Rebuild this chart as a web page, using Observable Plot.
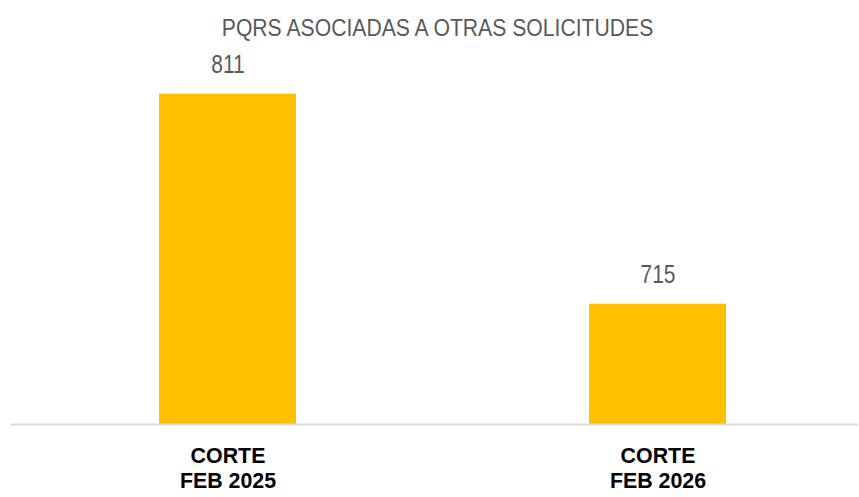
<!DOCTYPE html>
<html>
<head>
<meta charset="utf-8">
<script src="https://cdn.jsdelivr.net/npm/d3@7"></script>
<script src="https://cdn.jsdelivr.net/npm/@observablehq/plot@0.6"></script>
<style>
  html, body { margin: 0; padding: 0; background: #fff; }
  body { width: 859px; height: 497px; overflow: hidden; font-family: "Liberation Sans", Arial, sans-serif; }
  #title {
    box-sizing: border-box; height: 50px; padding-top: 17px; padding-left: 16px;
    font-size: 23px; line-height: 23px;
    color: #595959; text-align: center; white-space: nowrap;
  }
  #title span { display: inline-block; transform: scaleX(0.92); transform-origin: center; }
  #chart svg { display: block; }
</style>
</head>
<body>
<div id="title"><span>PQRS ASOCIADAS A OTRAS SOLICITUDES</span></div>
<div id="chart"></div>
<script>
const categories = ["CORTE\nFEB 2025", "CORTE\nFEB 2026"];
const values = [811, 715];
const yAxisMin = 660;
const yAxisMax = 820;

const data = categories.map((c, i) => ({cat: c, value: values[i]}));

const chart = Plot.plot({
  width: 859,
  height: 447,
  marginLeft: 11,
  marginRight: 1,
  marginTop: 24,
  marginBottom: 73,
  style: {fontFamily: "'Liberation Sans', Arial, sans-serif", background: "#fff"},
  x: {domain: categories, paddingInner: 0.682, paddingOuter: 0.324, align: 0.527, axis: null},
  y: {domain: [yAxisMin, yAxisMax], axis: null},
  marks: [
    Plot.barY(data, {x: "cat", y1: yAxisMin, y2: "value", fill: "#FFC000"}),
    Plot.ruleY([yAxisMin], {stroke: "#d9d9d9", strokeWidth: 2}),
    Plot.text(data, {
      x: "cat", y: "value", text: d => String(d.value),
      lineAnchor: "bottom", dy: -21, fontSize: 25, fill: "#595959",
      className: "vlabel"
    }),
    Plot.axisX({
      anchor: "bottom", tickSize: 0, tickPadding: 21, fontSize: 23,
      fontWeight: "bold", lineHeight: 1.087, fill: "#000", label: null,
      className: "xlabel"
    })
  ]
});
document.getElementById("chart").appendChild(chart);

// emulate the condensed typeface of the original
function condense(selector, s) {
  chart.querySelectorAll(selector).forEach(t => {
    const b = t.getBBox();
    const cx = b.x + b.width / 2;
    const tr = t.getAttribute("transform") || "";
    t.setAttribute("transform", `${tr} translate(${cx},0) scale(${s},1) translate(${-cx},0)`);
  });
}
condense(".vlabel text", 0.84);
condense(".xlabel text", 0.93);
</script>
</body>
</html>
